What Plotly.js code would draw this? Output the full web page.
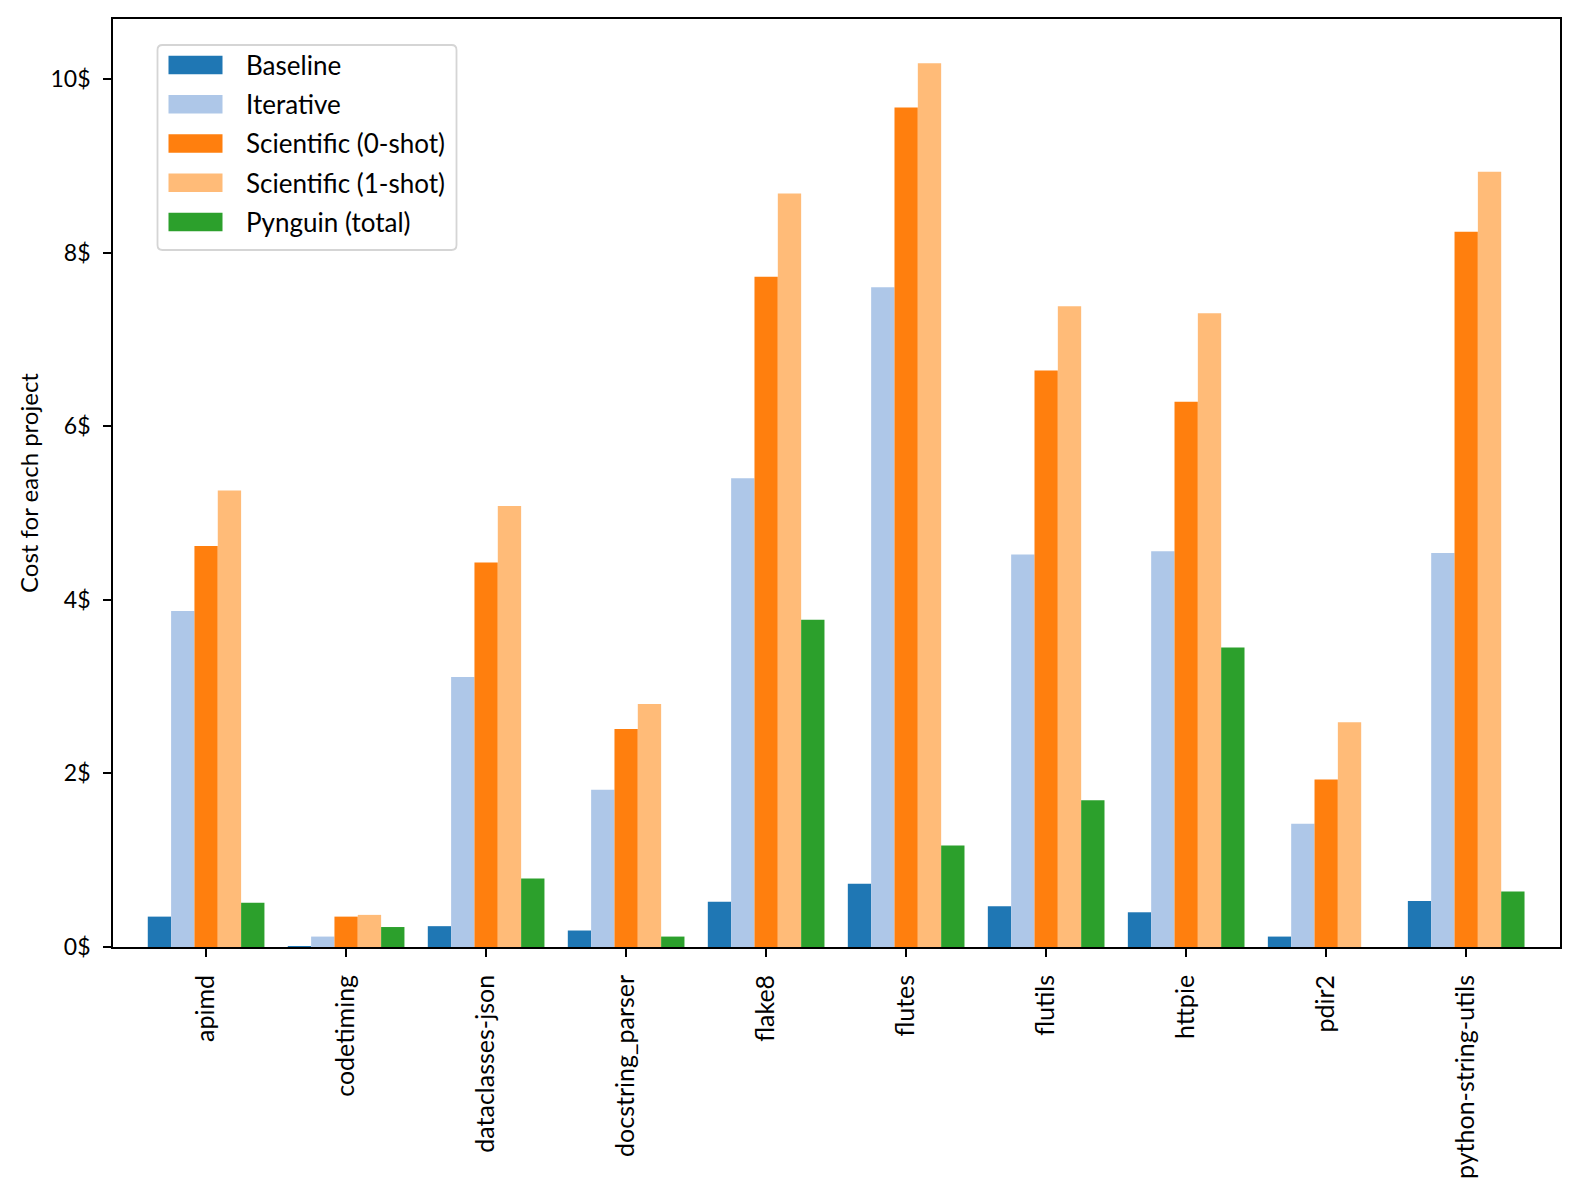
<!DOCTYPE html>
<html>
<head>
<meta charset="utf-8">
<script src="https://cdn.plot.ly/plotly-3.0.1.min.js"></script>
<style>
  html, body { margin: 0; padding: 0; background: #fff; }
  #chart { width: 1579px; height: 1190px; }
</style>
</head>
<body>
<div id="chart"></div>
<script>
// projects on the x axis
var projects = ['apimd', 'codetiming', 'dataclasses-json', 'docstring_parser', 'flake8',
  'flutes', 'flutils', 'httpie', 'pdir2', 'python-string-utils']

// cost per project (dollars)
var baseline   = [0.35, 0.01, 0.24, 0.19, 0.52, 0.73, 0.47, 0.40, 0.12, 0.53]
var iterative  = [3.87, 0.12, 3.11, 1.81, 5.40, 7.60, 4.52, 4.56, 1.42, 4.54]
var sci_0shot  = [4.62, 0.35, 4.43, 2.51, 7.72, 9.67, 6.64, 6.28, 1.93, 8.24]
var sci_1shot  = [5.26, 0.37, 5.08, 2.80, 8.68, 10.18, 7.38, 7.30, 2.59, 8.93]
var pynguin    = [0.51, 0.23, 0.79, 0.12, 3.77, 1.17, 1.69, 3.45, 0.00, 0.64]

var series_names = ['Baseline', 'Iterative', 'Scientific (0-shot)', 'Scientific (1-shot)', 'Pynguin (total)']
var series_values = [baseline, iterative, sci_0shot, sci_1shot, pynguin]
var y_ticks = [0, 2, 4, 6, 8, 10]
var y_ticktext = y_ticks.map(v => v + '$')

// tab20 pairs
var colors = ['#1f77b4', '#aec7e8', '#ff7f0e', '#ffbb78', '#2ca02c']

var font_family = 'Lato, "DejaVu Sans", sans-serif'

// plot area in pixels, used to place the hand drawn legend
var W = 1579, H = 1190
var M = { l: 113, r: 19, t: 19, b: 243 }
var px = x => (x - M.l) / (W - M.l - M.r)
var py = y => (H - M.b - y) / (H - M.t - M.b)

var chart_data = series_names.map(function (name, i) {
  return {
    x: projects,
    y: series_values[i],
    name: name,
    type: 'bar',
    marker: { color: colors[i], line: { width: 0 } },
    hoverinfo: 'name+y'
  }
})

/**
 * LEGEND
 * matplotlib style: rounded grey frame, wide swatches
 */
var box = { x0: 157.5, x1: 456.5, y0: 45, y1: 250, r: 5 }
var frame_path = [
  'M', px(box.x0 + box.r), py(box.y0),
  'L', px(box.x1 - box.r), py(box.y0),
  'Q', px(box.x1), py(box.y0), px(box.x1), py(box.y0 + box.r),
  'L', px(box.x1), py(box.y1 - box.r),
  'Q', px(box.x1), py(box.y1), px(box.x1 - box.r), py(box.y1),
  'L', px(box.x0 + box.r), py(box.y1),
  'Q', px(box.x0), py(box.y1), px(box.x0), py(box.y1 - box.r),
  'L', px(box.x0), py(box.y0 + box.r),
  'Q', px(box.x0), py(box.y0), px(box.x0 + box.r), py(box.y0),
  'Z'
].join(' ')

var shapes = [{
  type: 'path', xref: 'paper', yref: 'paper', path: frame_path,
  fillcolor: 'rgba(255,255,255,0.8)', line: { color: '#d5d5d5', width: 1.8 }, layer: 'above'
}]
var annotations = []
series_names.forEach(function (name, i) {
  var cy = 65 + i * 39.25
  shapes.push({
    type: 'rect', xref: 'paper', yref: 'paper',
    x0: px(168.5), x1: px(222.5), y0: py(cy - 9.3), y1: py(cy + 9.3),
    fillcolor: colors[i], line: { width: 0 }, layer: 'above'
  })
  annotations.push({
    xref: 'paper', yref: 'paper', x: px(244), y: py(cy),
    xanchor: 'left', yanchor: 'middle', showarrow: false,
    text: name, font: { size: 26, family: font_family, color: '#000' }
  })
})

var chart_layout = {
  width: W,
  height: H,
  margin: M,
  paper_bgcolor: '#fff',
  plot_bgcolor: '#fff',
  font: { family: font_family, color: '#000', size: 24 },
  barmode: 'group',
  bargap: 1 / 6,
  bargroupgap: 0,
  showlegend: false,
  shapes: shapes,
  annotations: annotations,
  xaxis: {
    type: 'category',
    range: [-0.665, 9.67],
    tickangle: -90,
    ticks: 'outside',
    ticklen: 8,
    tickwidth: 1.5,
    tickcolor: '#000',
    ticklabelstandoff: 8,
    showline: true,
    linecolor: '#000',
    linewidth: 1.8,
    mirror: true,
    showgrid: false,
    zeroline: false,
    tickfont: { size: 25 }
  },
  yaxis: {
    range: [0, 10.69],
    tickmode: 'array',
    tickvals: y_ticks,
    ticktext: y_ticktext,
    ticks: 'outside',
    ticklen: 8,
    tickwidth: 1.5,
    tickcolor: '#000',
    ticklabelstandoff: 8,
    showline: true,
    linecolor: '#000',
    linewidth: 1.8,
    mirror: true,
    showgrid: false,
    zeroline: false,
    tickfont: { size: 23 },
    title: { text: 'Cost for each project', font: { size: 24 }, standoff: 5 }
  }
}

Plotly.newPlot('chart', chart_data, chart_layout, { responsive: false, displayModeBar: false })
</script>
</body>
</html>
